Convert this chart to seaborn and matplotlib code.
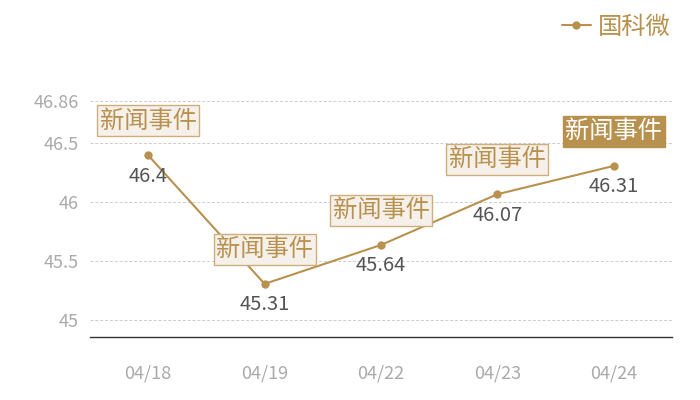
import pandas as pd
import seaborn as sns
import matplotlib.pyplot as plt

# chart data
dates = ['04/18', '04/19', '04/22', '04/23', '04/24']
prices = [46.4, 45.31, 45.64, 46.07, 46.31]
event_labels = ['新闻事件', '新闻事件', '新闻事件', '新闻事件', '新闻事件']
highlighted = [False, False, False, False, True]
y_ticks = [45, 45.5, 46, 46.5, 46.86]
series_name = '国科微'

gold = '#b8914f'

sns.set_theme(style='white')
plt.rcParams['font.family'] = ['Noto Sans CJK SC', 'DejaVu Sans']

df = pd.DataFrame({'date': dates, 'price': prices})

fig = plt.figure(figsize=(7, 4), dpi=100)
ax = fig.add_axes([0.1286, 0.1575, 0.8314, 0.59])

sns.lineplot(data=df, x='date', y='price', ax=ax, color=gold, linewidth=1.5,
             marker='o', markersize=6, markeredgewidth=0, label=series_name, sort=False)

ax.set_ylim(44.86, 46.86)
ax.set_xlim(-0.5, len(dates) - 0.5)
ax.set_yticks(y_ticks)
ax.set_yticklabels([f'{v:g}' for v in y_ticks])
ax.set_xlabel('')
ax.set_ylabel('')
ax.grid(axis='y', color='#cccccc', linestyle=(0, (3, 2)), linewidth=0.7)
ax.tick_params(axis='both', length=0, labelsize=13, labelcolor='#aaaaaa')
ax.tick_params(axis='x', pad=20)
ax.tick_params(axis='y', pad=8)
for side in ['top', 'right', 'left']:
    ax.spines[side].set_visible(False)
ax.spines['bottom'].set_color('#333333')
ax.spines['bottom'].set_linewidth(1)

# value labels under the points and event boxes above them
for i, (d, p) in enumerate(zip(dates, prices)):
    ax.annotate(f'{p:g}', (i, p), xytext=(0, -15), textcoords='offset points',
                ha='center', va='center', fontsize=14.5, color='#555555')
    if highlighted[i]:
        face, edge, txt = gold, gold, 'white'
    else:
        face, edge, txt = '#f5f0ea', '#cfae7e', gold
    ax.annotate(event_labels[i], (i, p), xytext=(0, 25), textcoords='offset points',
                ha='center', va='center', fontsize=17.5, color=txt,
                bbox=dict(boxstyle='square,pad=0.1', facecolor=face, edgecolor=edge, linewidth=1))

leg = ax.legend(loc='upper right', bbox_to_anchor=(1.015, 1.41), frameon=False,
                fontsize=17.5, handlelength=1.2, handletextpad=0.3, labelcolor=gold,
                borderaxespad=0)

fig.savefig('out.png', dpi=100)
